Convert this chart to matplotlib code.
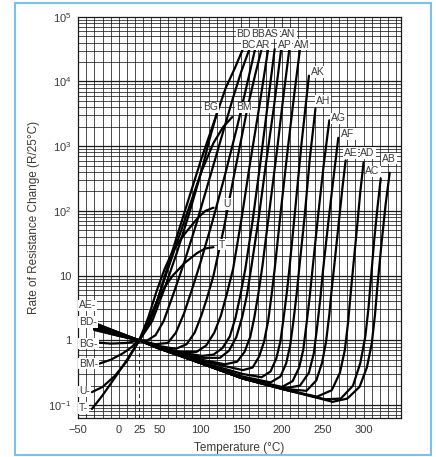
import matplotlib
matplotlib.use("Agg")
import matplotlib.pyplot as plt
import numpy as np
from matplotlib.patches import Rectangle

# temperature (deg C) and log10(R / R25), one pair per curve
BD_T = [-30, 0, 25, 36, 46, 56, 71, 86, 101, 116, 131, 142, 152]
BD_L = [0.27, 0.12, 0, 0.22, 0.55, 0.98, 1.6, 2.2, 2.8, 3.35, 3.9, 4.2, 4.5]
BC_T = [-30, 0, 25, 35, 45, 55, 65, 80, 95, 110, 125, 140, 150, 160]
BC_L = [0.26, 0.12, 0, 0.0, 0.08, 0.3, 0.65, 1.2, 1.8, 2.45, 3.1, 3.75, 4.15, 4.5]
BB_T = [-30, 0, 25, 45, 60, 70, 80, 90, 100, 115, 130, 145, 157, 167]
BB_L = [0.25, 0.11, 0, -0.06, -0.04, 0.12, 0.42, 0.8, 1.2, 1.85, 2.55, 3.3, 3.95, 4.5]
AR_T = [-30, 0, 25, 50, 70, 83, 93, 101, 108, 116, 129, 142, 157, 167, 175]
AR_L = [0.24, 0.11, 0, -0.09, -0.13, -0.06, 0.12, 0.38, 0.65, 1.0, 1.75, 2.6, 3.55, 4.1, 4.5]
AS_T = [-30, 0, 25, 50, 76, 95, 107, 117, 125, 132, 140, 150, 161, 172, 183]
AS_L = [0.23, 0.1, 0, -0.11, -0.18, -0.18, -0.08, 0.12, 0.38, 0.7, 1.1, 1.85, 2.75, 3.6, 4.5]
EX_T = [-30, 0, 25, 50, 76, 102, 116, 127, 136, 143, 149, 155, 164, 173, 182, 191]
EX_L = [0.22, 0.1, 0, -0.12, -0.19, -0.24, -0.22, -0.12, 0.06, 0.35, 0.7, 1.1, 1.85, 2.7, 3.6, 4.5]
AP_T = [-30, 0, 25, 50, 76, 102, 124, 135, 144, 151, 157, 162, 171, 180, 190, 199]
AP_L = [0.22, 0.1, 0, -0.12, -0.2, -0.27, -0.27, -0.16, 0.05, 0.35, 0.7, 1.1, 1.85, 2.7, 3.6, 4.5]
AN_T = [-30, 0, 25, 50, 102, 130, 145, 154, 161, 166, 171, 176, 185, 194, 202, 209]
AN_L = [0.21, 0.1, 0, -0.12, -0.3, -0.37, -0.33, -0.18, 0.05, 0.35, 0.72, 1.15, 2.05, 2.95, 3.8, 4.5]
AM_T = [-30, 0, 25, 50, 102, 152, 164, 172, 178, 183, 187, 191, 199, 207, 215, 222]
AM_L = [0.2, 0.09, 0, -0.12, -0.32, -0.46, -0.42, -0.25, -0.02, 0.3, 0.68, 1.1, 2.05, 2.95, 3.8, 4.5]
AK_T = [-30, 0, 25, 50, 102, 152, 175, 186, 193, 198, 202, 206, 209, 216, 224, 233]
AK_L = [0.2, 0.09, 0, -0.13, -0.34, -0.52, -0.57, -0.48, -0.28, -0.02, 0.35, 0.75, 1.1, 2.0, 3.05, 4.09]
AH_T = [-30, 0, 25, 50, 102, 152, 186, 198, 205, 210, 214, 218, 221, 228, 234, 241]
AH_L = [0.19, 0.09, 0, -0.13, -0.35, -0.56, -0.65, -0.56, -0.36, -0.08, 0.3, 0.72, 1.1, 1.95, 2.8, 3.58]
AG_T = [-30, 0, 25, 50, 102, 152, 200, 213, 221, 226, 230, 234, 237, 244, 251, 258]
AG_L = [0.19, 0.08, 0, -0.13, -0.36, -0.58, -0.72, -0.63, -0.42, -0.15, 0.25, 0.68, 1.05, 1.9, 2.7, 3.4]
AF_T = [-30, 0, 25, 50, 102, 152, 203, 222, 233, 239, 243, 247, 250, 257, 263, 269]
AF_L = [0.18, 0.08, 0, -0.13, -0.36, -0.59, -0.74, -0.7, -0.5, -0.2, 0.2, 0.65, 1.05, 1.85, 2.5, 3.13]
AE_T = [-30, 0, 25, 102, 152, 203, 230, 242, 249, 254, 258, 261, 264, 269, 274, 278]
AE_L = [0.18, 0.08, 0, -0.36, -0.59, -0.75, -0.78, -0.62, -0.35, -0.02, 0.4, 0.8, 1.15, 1.75, 2.35, 2.78]
AD_T = [-30, 0, 25, 102, 152, 203, 243, 261, 271, 277, 281, 284, 287, 292, 296, 300]
AD_L = [0.17, 0.08, 0, -0.36, -0.59, -0.76, -0.87, -0.77, -0.5, -0.15, 0.28, 0.7, 1.1, 1.75, 2.3, 2.75]
AC_T = [-30, 0, 25, 102, 152, 203, 253, 272, 287, 296, 302, 306, 309, 313, 317, 321]
AC_L = [0.17, 0.07, 0, -0.36, -0.59, -0.76, -0.91, -0.9, -0.7, -0.35, 0.05, 0.5, 0.95, 1.55, 2.05, 2.5]
AB_T = [-30, 0, 25, 102, 152, 203, 253, 262, 280, 295, 304, 310, 314, 317, 322, 327, 332]
AB_L = [0.16, 0.07, 0, -0.36, -0.59, -0.76, -0.92, -0.95, -0.9, -0.72, -0.42, -0.05, 0.4, 0.85, 1.5, 2.1, 2.59]
BG_T = [-30, -10, 10, 25, 41, 56, 71, 86, 101, 111, 120]
BG_L = [-0.03, -0.05, -0.04, 0, 0.3, 0.8, 1.35, 1.95, 2.6, 3.1, 3.5]
BM_T = [-24, -10, 5, 15, 25, 41, 56, 71, 86, 101, 116, 128, 139]
BM_L = [-0.36, -0.3, -0.2, -0.11, 0, 0.4, 0.95, 1.5, 2.05, 2.6, 3.05, 3.3, 3.45]
U_T = [-33, -20, -5, 10, 25, 36, 46, 56, 66, 81, 96, 106, 116]
U_L = [-0.8, -0.72, -0.55, -0.32, 0, 0.35, 0.75, 1.1, 1.38, 1.65, 1.88, 2.0, 2.05]
T_T = [-33, -20, -5, 10, 25, 36, 46, 56, 66, 81, 96, 106, 116]
T_L = [-1.06, -0.85, -0.58, -0.3, 0, 0.3, 0.58, 0.82, 1.0, 1.2, 1.35, 1.42, 1.44]

CURVES = [
    (BD_T, BD_L), (BC_T, BC_L), (BB_T, BB_L), (AR_T, AR_L), (AS_T, AS_L),
    (EX_T, EX_L), (AP_T, AP_L), (AN_T, AN_L), (AM_T, AM_L), (AK_T, AK_L),
    (AH_T, AH_L), (AG_T, AG_L), (AF_T, AF_L), (AE_T, AE_L), (AD_T, AD_L),
    (AC_T, AC_L), (AB_T, AB_L), (BG_T, BG_L), (BM_T, BM_L), (U_T, U_L), (T_T, T_L),
]

# curve labels: text, temperature, log10 value
CURVE_LABELS = [
    ("BD", 153, 4.74), ("BB", 170, 4.74), ("AS", 188, 4.74), ("AN", 208, 4.74),
    ("BC", 159, 4.57), ("AR", 177, 4.57), ("AP", 203, 4.57), ("AM", 224, 4.57),
    ("AK", 244, 4.15), ("AH", 250, 3.7), ("AG", 269, 3.43), ("AF", 281, 3.19),
    ("AE", 284, 2.9), ("AD", 305, 2.9), ("AB", 331, 2.81), ("AC", 311, 2.61),
    ("BG", 112, 3.6), ("BM", 153, 3.6), ("U", 132, 2.11), ("T", 126, 1.48),
]
LEFT_LABELS = [("AE", 0.54), ("BD", 0.28), ("BG", -0.05), ("BM", -0.36), ("U", -0.79), ("T", -1.05)]

X_TICKS = [-50, 0, 25, 50, 100, 150, 200, 250, 300]
X_TICKLABELS = ["\u221250", "0", "25", "50", "100", "150", "200", "250", "300"]
Y_TICKS = [1e-1, 1, 10, 1e2, 1e3, 1e4, 1e5]
Y_TICKLABELS = ["$10^{-1}$", "1", "10", "$10^{2}$", "$10^{3}$", "$10^{4}$", "$10^{5}$"]

plt.rcParams["font.family"] = ["Liberation Sans", "DejaVu Sans"]
plt.rcParams["mathtext.fontset"] = "custom"
plt.rcParams["mathtext.rm"] = "Liberation Sans"
TEXT = "#3a3a3a"

fig = plt.figure(figsize=(4.36, 4.57), dpi=100)
ax = fig.add_axes([0.179, 0.0853, 0.741, 0.878])
ax.set_yscale("log")
ax.set_xlim(-50, 346)
ax.set_ylim(10 ** -1.2, 1e5)

# paper grid: every 10 deg C, 1..9 per decade
for t in range(-50, 350, 10):
    ax.axvline(t, color="#1a1a1a", lw=0.55, zorder=1)
for k in range(-2, 5):
    for m in range(1, 10):
        v = m * 10.0 ** k
        ax.axhline(v, color="#1a1a1a", lw=0.9 if m == 1 else 0.55, zorder=1)

ax.plot([25, 25], [10 ** -1.2, 1], color="#1a1a1a", lw=0.7, ls=(0, (4, 3)), zorder=2)

for temps, logs in CURVES:
    ax.plot(temps, 10 ** np.array(logs), color="black", lw=1.6, zorder=3,
            solid_capstyle="round", solid_joinstyle="round")

box = dict(facecolor="white", edgecolor="none", pad=0.6)
for name, t, lv in CURVE_LABELS:
    ax.text(t, 10 ** lv, name, fontsize=7.5, color=TEXT, ha="center", va="center",
            bbox=box, zorder=4)
for name, lv in LEFT_LABELS:
    ax.text(-48.5, 10 ** lv, name + "-", fontsize=7.5, color=TEXT, ha="left", va="center",
            bbox=box, zorder=4)

ax.set_xticks(X_TICKS)
ax.set_xticklabels(X_TICKLABELS)
ax.set_yticks(Y_TICKS)
ax.set_yticklabels(Y_TICKLABELS)
ax.yaxis.set_minor_locator(matplotlib.ticker.NullLocator())
ax.tick_params(length=0, labelsize=8, colors=TEXT, pad=5)
for s in ax.spines.values():
    s.set_color("#1a1a1a")
    s.set_linewidth(0.9)

ax.set_xlabel("Temperature (\u00b0C)", fontsize=8.5, color=TEXT, labelpad=5)
ax.set_ylabel("Rate of Resistance Change (R/25\u00b0C)", fontsize=8.5, color=TEXT, labelpad=6)

# scan frame
fig.patches.append(Rectangle((15 / 436, 2 / 457), 416 / 436, 452 / 457,
                             transform=fig.transFigure, fill=False,
                             edgecolor="#7cc0ec", lw=1.5))

fig.savefig("out.png", dpi=100, facecolor="white")
